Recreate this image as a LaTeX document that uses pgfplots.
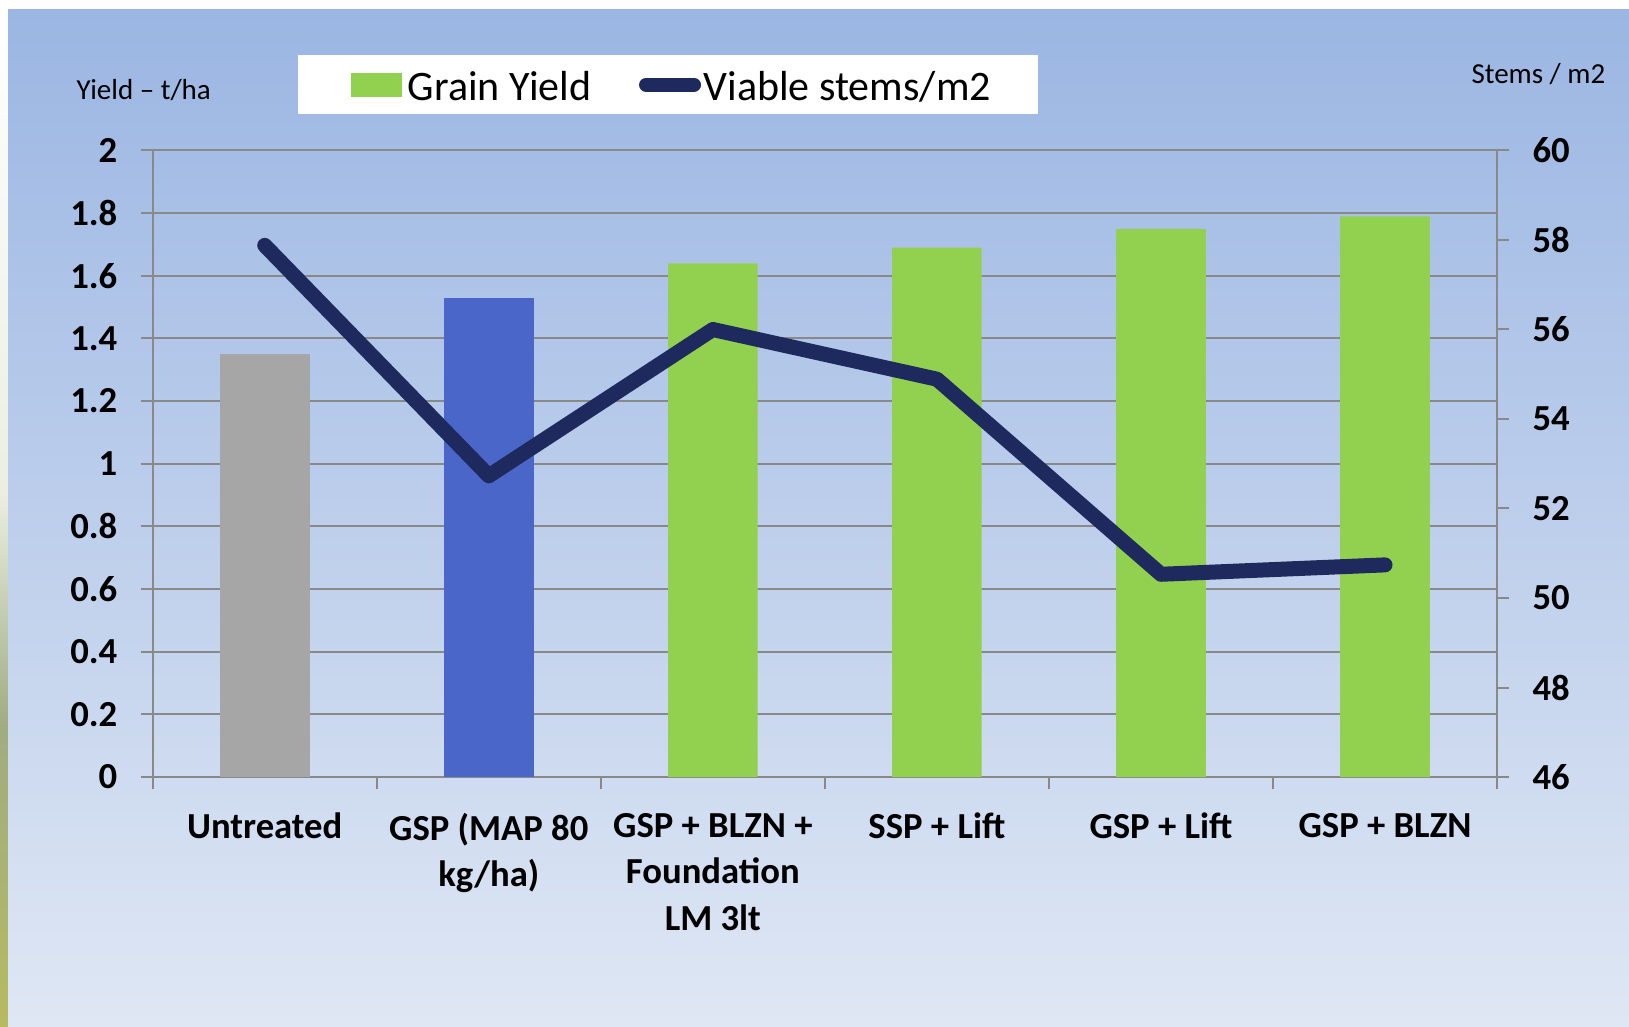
\documentclass[border=0pt]{standalone}
\usepackage{fontspec}
\setmainfont{Carlito}
\usepackage{pgfplots}
\pgfplotsset{compat=1.18}
\definecolor{bgtop}{RGB}{155,182,227}
\definecolor{bgbot}{RGB}{223,231,244}
\definecolor{cgray}{RGB}{166,166,166}
\definecolor{cblue}{RGB}{74,102,200}
\definecolor{cgreen}{RGB}{146,208,80}
\definecolor{cline}{RGB}{30,42,94}
\definecolor{agray}{RGB}{137,137,137}
\definecolor{stripA}{RGB}{236,238,226}
\definecolor{stripB}{RGB}{160,172,130}
\definecolor{stripC}{RGB}{184,186,96}
\begin{document}
\begin{tikzpicture}
\useasboundingbox (0,0) rectangle (488.7pt,307.8pt);
\fill[white] (0,0) rectangle (488.7pt,307.8pt);
% left photo strip
\shade[top color=white, bottom color=stripA] (0,160pt) rectangle (2.4pt,307.8pt);
\shade[top color=stripA, bottom color=stripB] (0,90pt) rectangle (2.4pt,160pt);
\shade[top color=stripB, bottom color=stripC] (0,0) rectangle (2.4pt,90pt);
% background
\shade[top color=bgtop, bottom color=bgbot] (2.4pt,0) rectangle (488.7pt,304.8pt);
% legend box
\fill[white] (89.4pt,273.6pt) rectangle (311.4pt,291.3pt);
% axis titles
\node[anchor=base west, inner sep=0pt, font=\fontsize{8.7}{10}\selectfont] at (22.8pt,277.8pt) {Yield -- t/ha};
\node[anchor=base east, inner sep=0pt, font=\fontsize{8.7}{10}\selectfont] at (481.8pt,282.8pt) {Stems / m2};

\begin{axis}[
  at={(45.81pt,74.7pt)}, anchor=south west,
  scale only axis, width=403.3pt, height=187.95pt,
  xmin=-0.5, xmax=5.5, ymin=0, ymax=2,
  axis x line*=bottom, axis y line*=left,
  axis line style={draw=agray, line width=0.6pt},
  tick align=outside, major tick length=3.6pt,
  tick style={draw=agray, line width=0.6pt},
  ytick={0,0.2,0.4,0.6,0.8,1,1.2,1.4,1.6,1.8,2},
  ymajorgrids, grid style={draw=agray, line width=0.6pt},
  xtick={-0.5,0.5,1.5,2.5,3.5,4.5,5.5},
  xticklabels={,,,,,,},
  extra x ticks={0,1,2,3,4,5},
  extra x tick labels={Untreated, GSP (MAP 80\\kg/ha), GSP + BLZN +\\Foundation\\LM 3lt, SSP + Lift, GSP + Lift, GSP + BLZN},
  extra x tick style={tick style={draw=none}},
  x tick label style={align=center, font=\bfseries\fontsize{11}{14}\selectfont, yshift=-3.7pt},
  y tick label style={font=\bfseries\fontsize{11}{13.7}\selectfont, xshift=-3.5pt},
  /pgf/number format/assume math mode=true,
  legend columns=2,
  legend style={draw=none, fill=none, inner sep=0pt, at={(axis description cs:0.1468,1.0997)}, anchor=west,
    font=\fontsize{12.6}{15}\selectfont,
    nodes={inner sep=0pt},
    /tikz/every even column/.append style={column sep=14.1pt}},
  clip=false,
]
\addplot[ybar, bar width=0.4, bar shift=0pt, fill=cgray, draw=none, forget plot] coordinates {(0,1.35)};
\addplot[ybar, bar width=0.4, bar shift=0pt, fill=cblue, draw=none, forget plot] coordinates {(1,1.53)};
\addplot[ybar, bar width=0.4, bar shift=0pt, fill=cgreen, draw=none,
  legend image code/.code={\fill[cgreen] (0pt,-2.6pt) rectangle (15.3pt,4.6pt); \path (17.1pt,0pt);}]
  coordinates {(2,1.64) (3,1.69) (4,1.75) (5,1.79)};
\addlegendentry{Grain Yield}
\addlegendimage{legend image code/.code={\draw[cline, line width=4.3pt, line cap=round] (2.15pt,1.0pt) -- (16.45pt,1.0pt); \path (0pt,0pt) (19.2pt,0pt);}}
\addlegendentry{Viable stems/m2}
\end{axis}

\begin{axis}[
  at={(45.81pt,74.7pt)}, anchor=south west,
  scale only axis, width=403.3pt, height=187.95pt,
  xmin=-0.5, xmax=5.5, ymin=46, ymax=60,
  axis x line=none, axis y line*=right,
  axis line style={draw=agray, line width=0.6pt},
  tick align=outside, major tick length=3.6pt,
  tick style={draw=agray, line width=0.6pt},
  ytick={46,48,50,52,54,56,58,60},
  y tick label style={font=\bfseries\fontsize{11}{13.7}\selectfont, xshift=3.5pt},
  /pgf/number format/assume math mode=true,
  clip=false,
]
\addplot[cline, line width=4.5pt, line cap=round, line join=round, mark=none]
  coordinates {(0,57.88) (1,52.73) (2,56.0) (3,54.89) (4,50.53) (5,50.74)};
\end{axis}
\end{tikzpicture}
\end{document}
